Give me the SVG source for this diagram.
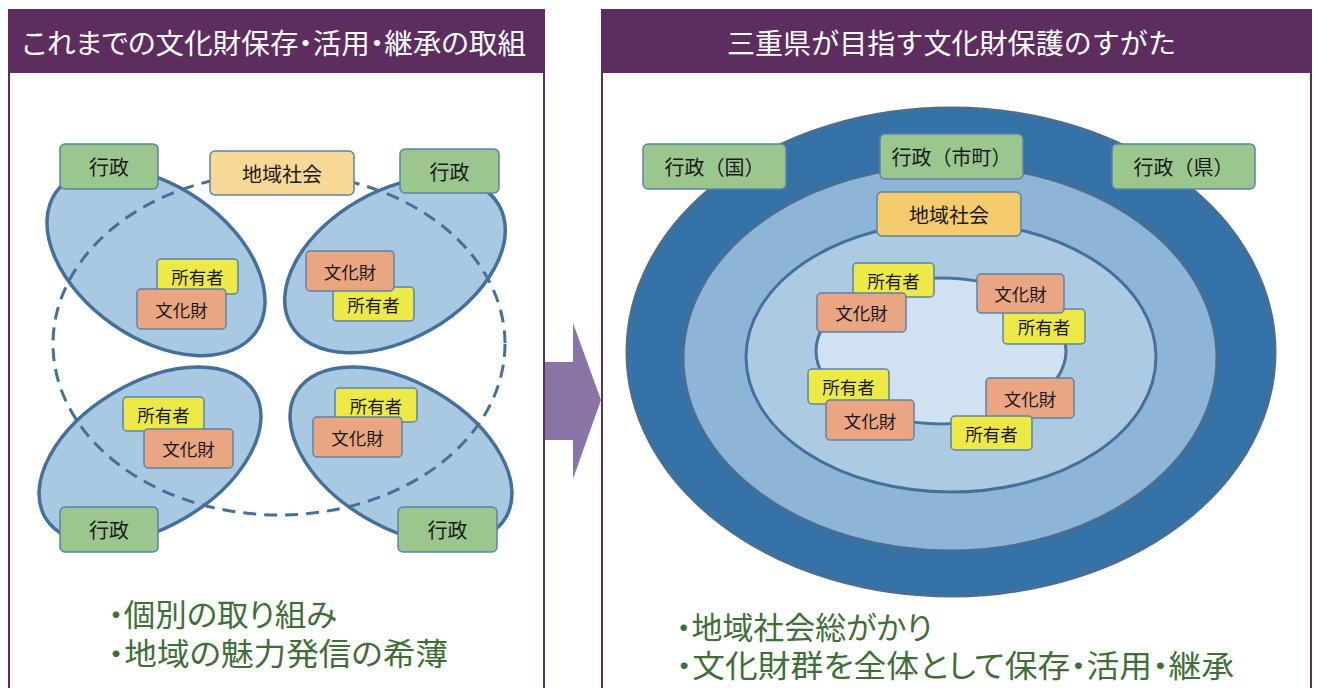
<svg xmlns="http://www.w3.org/2000/svg" width="1317" height="688" viewBox="0 0 1317 688">
<style>
.frame{fill:#fff;stroke:#5E2D60;stroke-width:2}
.hdr{fill:#5E2D60}
.ht{font-family:"Noto Sans CJK JP","Noto Sans",sans-serif;font-size:28px;fill:#fff}
.palt{font-feature-settings:"palt" 1}
.lbl{font-family:"Noto Sans CJK JP","Noto Sans",sans-serif;fill:#1a1a1a;text-anchor:middle;dominant-baseline:central}
.big{font-size:20px}
.sm{font-size:17.5px}
.box{stroke:#5B84A7;stroke-width:1.5}
.g{fill:#9BC78F}
.y{fill:#EDEA48}
.o{fill:#EAA582}
.c{fill:#F7D896}
.c2{fill:#F5CB6E}
.pet{fill:#A9C9E2;stroke:#45709A;stroke-width:3.5}
.dash{fill:none;stroke:#45709A;stroke-width:3;stroke-dasharray:13 8}
.note{font-family:"Noto Sans CJK JP","Noto Sans",sans-serif;fill:#3F6E38;font-feature-settings:"palt" 1}
</style>

<!-- panels -->
<g id="panel-left">
<rect class="frame" x="9" y="10" width="535" height="700"/>
<rect class="hdr" x="8" y="9" width="537" height="64"/>
<text class="ht palt" x="22" y="54" textLength="504" lengthAdjust="spacingAndGlyphs">これまでの文化財保存・活用・継承の取組</text>
</g>
<g id="panel-right">
<rect class="frame" x="602" y="10" width="709" height="700"/>
<rect class="hdr" x="601" y="9" width="711" height="64"/>
<text class="ht" x="727" y="54" textLength="449" lengthAdjust="spacingAndGlyphs">三重県が目指す文化財保護のすがた</text>
</g>

<!-- arrow -->
<g id="connectors">
<polygon points="545,362 573,362 573,323 601,400 573,479 573,440 545,440" fill="#8A74A6"/>
</g>

<!-- left: groups -->
<g id="left-groups">
<ellipse class="pet" cx="156" cy="262" rx="122" ry="76" transform="rotate(35 156 262)"/>
<ellipse class="pet" cx="395" cy="265" rx="120" ry="74" transform="rotate(-30 395 265)"/>
<ellipse class="pet" cx="150" cy="455" rx="122" ry="72" transform="rotate(-31 150 455)"/>
<ellipse class="pet" cx="401" cy="455" rx="122" ry="72" transform="rotate(31 401 455)"/>
<ellipse class="dash" cx="279" cy="344" rx="226" ry="171"/>
</g>

<g id="l-gyosei-tl"><rect class="box g" x="60" y="144" width="98" height="45" rx="5"/><text class="lbl big" x="109" y="166.5">行政</text></g>
<g id="l-chiiki"><rect class="box c" x="210" y="151" width="144" height="44" rx="5"/><text class="lbl big" x="282" y="173">地域社会</text></g>
<g id="l-gyosei-tr"><rect class="box g" x="400" y="149" width="99" height="44" rx="5"/><text class="lbl big" x="449.5" y="171">行政</text></g>

<g id="l-shoyu-tl"><rect class="box y" x="157" y="259" width="81" height="35" rx="4"/><text class="lbl sm" x="197.5" y="276.5">所有者</text></g>
<g id="l-bunka-tl"><rect class="box o" x="137" y="289" width="89" height="40" rx="4"/><text class="lbl sm" x="181.5" y="309">文化財</text></g>

<g id="l-shoyu-tr"><rect class="box y" x="333" y="287" width="81" height="34" rx="4"/><text class="lbl sm" x="373.5" y="304">所有者</text></g>
<g id="l-bunka-tr"><rect class="box o" x="306" y="251" width="88" height="40" rx="4"/><text class="lbl sm" x="350" y="271">文化財</text></g>

<g id="l-shoyu-bl"><rect class="box y" x="123" y="397" width="81" height="34" rx="4"/><text class="lbl sm" x="163.5" y="414">所有者</text></g>
<g id="l-bunka-bl"><rect class="box o" x="144" y="429" width="89" height="39" rx="4"/><text class="lbl sm" x="188.5" y="448.5">文化財</text></g>

<g id="l-shoyu-br"><rect class="box y" x="335" y="388" width="82" height="34" rx="4"/><text class="lbl sm" x="376" y="405">所有者</text></g>
<g id="l-bunka-br"><rect class="box o" x="313" y="417" width="89" height="40" rx="4"/><text class="lbl sm" x="357.5" y="437">文化財</text></g>

<g id="l-gyosei-bl"><rect class="box g" x="60" y="507" width="98" height="45" rx="5"/><text class="lbl big" x="109" y="529.5">行政</text></g>
<g id="l-gyosei-br"><rect class="box g" x="398" y="507" width="99" height="45" rx="5"/><text class="lbl big" x="447.5" y="529.5">行政</text></g>

<!-- right: nested -->
<g id="right-rings">
<ellipse cx="951" cy="352" rx="324" ry="244" fill="#3572A8" stroke="#4A6E92" stroke-width="3"/>
<ellipse cx="950" cy="358" rx="267" ry="193" fill="#8CB5D8" stroke="#4A6E92" stroke-width="3"/>
<ellipse cx="951" cy="357" rx="205" ry="135" fill="#ACCBE3" stroke="#45709A" stroke-width="3"/>
<ellipse cx="941" cy="351" rx="125" ry="73" fill="#D0E2F1" stroke="#4A7398" stroke-width="3"/>
</g>

<g id="r-gyosei-kuni"><rect class="box g" x="643" y="144" width="143" height="45" rx="5"/><text class="lbl big" x="714.5" y="166.5">行政（国）</text></g>
<g id="r-gyosei-shicho"><rect class="box g" x="880" y="134" width="143" height="45" rx="5"/><text class="lbl big" x="951.5" y="156.5">行政（市町）</text></g>
<g id="r-gyosei-ken"><rect class="box g" x="1112" y="144" width="143" height="45" rx="5"/><text class="lbl big" x="1183.5" y="166.5">行政（県）</text></g>
<g id="r-chiiki"><rect class="box c2" x="877" y="192" width="144" height="44" rx="5"/><text class="lbl big" x="949" y="214">地域社会</text></g>

<g id="r-shoyu-a"><rect class="box y" x="853" y="263" width="81" height="34" rx="4"/><text class="lbl sm" x="893.5" y="280">所有者</text></g>
<g id="r-bunka-a"><rect class="box o" x="817" y="293" width="89" height="39" rx="4"/><text class="lbl sm" x="861.5" y="312.5">文化財</text></g>

<g id="r-shoyu-b"><rect class="box y" x="1003" y="309" width="82" height="35" rx="4"/><text class="lbl sm" x="1044" y="326.5">所有者</text></g>
<g id="r-bunka-b"><rect class="box o" x="977" y="274" width="87" height="39" rx="4"/><text class="lbl sm" x="1020.5" y="293.5">文化財</text></g>

<g id="r-shoyu-c"><rect class="box y" x="808" y="369" width="81" height="35" rx="4"/><text class="lbl sm" x="848.5" y="386.5">所有者</text></g>
<g id="r-bunka-c"><rect class="box o" x="826" y="400" width="88" height="40" rx="4"/><text class="lbl sm" x="870" y="420">文化財</text></g>

<g id="r-bunka-d"><rect class="box o" x="986" y="378" width="88" height="40" rx="4"/><text class="lbl sm" x="1030" y="398">文化財</text></g>
<g id="r-shoyu-d"><rect class="box y" x="951" y="416" width="81" height="34" rx="4"/><text class="lbl sm" x="991.5" y="433">所有者</text></g>

<!-- notes -->
<g id="notes-left">
<text class="note" x="108" y="626" font-size="31" textLength="229" lengthAdjust="spacingAndGlyphs">・個別の取り組み</text>
<text class="note" x="108" y="665" font-size="31" textLength="340" lengthAdjust="spacingAndGlyphs">・地域の魅力発信の希薄</text>
</g>
<g id="notes-right">
<text class="note" x="676" y="639" font-size="31" textLength="256" lengthAdjust="spacingAndGlyphs">・地域社会総がかり</text>
<text class="note" x="676" y="677" font-size="31" textLength="558" lengthAdjust="spacingAndGlyphs">・文化財群を全体として保存・活用・継承</text>
</g>
</svg>
